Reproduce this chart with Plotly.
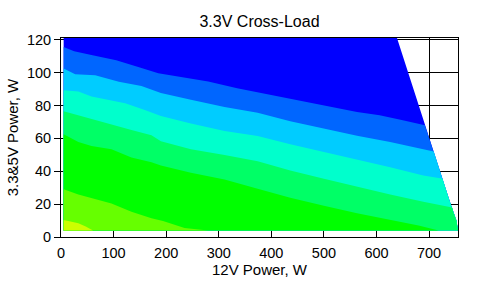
import plotly.graph_objects as go

# ---- data ----
X_TICKS = [0, 100, 200, 300, 400, 500, 600, 700]
Y_TICKS = [0, 20, 40, 60, 80, 100, 120]

# band colours, top (highest 3.3&5V load) to bottom
BAND_COLORS = ["#0000FF", "#0066FF", "#00CCFF", "#00FFCC",
               "#00FF66", "#00FF00", "#66FF00", "#CCFF00"]

# measured load region
X_MIN = 5
Y_MIN = 4
Y_MAX = 121
# right-hand cut-off edge (max combined load), bottom to top
EDGE_X = [755, 752, 746, 741, 736, 731, 726, 721, 716, 711, 706, 701, 695, 690,
          685, 681, 676, 670, 666, 660, 655, 650, 646, 639]
EDGE_Y = [4, 10, 15, 20, 25, 30, 35, 40, 45, 50, 55, 60, 65, 70,
          75, 80, 85, 90, 95, 100, 105, 110, 115, 121]

# band boundaries (upper colour / lower colour)
B1_X = [5, 25, 60, 105, 150, 185, 220, 280, 335, 375, 435, 500, 563, 606, 650, 692]
B1_Y = [115.5, 113, 110.5, 107.5, 103, 99.5, 97.5, 94.5, 90.5, 88, 84.5, 80, 76, 74, 71, 68]

B2_X = [5, 27, 65, 110, 153, 190, 247, 311, 374, 436, 500, 563, 626, 689, 709]
B2_Y = [102.5, 99, 98.4, 94.4, 91.8, 87.5, 83.4, 79, 75.5, 70.4, 65.8, 61.5, 57.8, 53.4, 52]

B3_X = [5, 33, 58, 122, 158, 190, 247, 311, 374, 436, 500, 563, 626, 689, 724]
B3_Y = [89.2, 88.4, 85.4, 81.4, 77.4, 73.5, 69, 64.4, 61.4, 56.4, 51.4, 47, 42.4, 37.4, 35.5]

B4_X = [5, 27, 58, 96, 134, 172, 190, 247, 311, 374, 436, 500, 563, 626, 689, 744]
B4_Y = [76.5, 74.4, 71.8, 68.4, 65, 61.8, 58.2, 53.4, 49.8, 46, 40.4, 35.4, 30.4, 25.8, 21.4, 18]

B5_X = [5, 33, 58, 96, 134, 172, 190, 247, 311, 374, 436, 500, 563, 626, 680, 718]
B5_Y = [62.5, 57.8, 55.4, 53.4, 48.4, 45.4, 43.4, 39, 35, 29.4, 23.8, 19, 14.4, 10.4, 7, 4]

B6_X = [5, 33, 58, 96, 134, 172, 194, 216, 235, 280]
B6_Y = [29, 25.8, 23.4, 20.4, 15.4, 11.4, 9.8, 7.4, 5.4, 4]

B7_X = [5, 33, 47, 61]
B7_Y = [10.4, 8.4, 6.4, 4]

BOUNDARIES = [(B1_X, B1_Y), (B2_X, B2_Y), (B3_X, B3_Y), (B4_X, B4_Y),
              (B5_X, B5_Y), (B6_X, B6_Y), (B7_X, B7_Y)]

fig = go.Figure()

# whole measured region in the top colour
px = [X_MIN] + EDGE_X + [X_MIN, X_MIN]
py = [Y_MIN] + EDGE_Y + [Y_MAX, Y_MIN]
fig.add_trace(go.Scatter(x=px, y=py, mode="lines", fill="toself",
                         fillcolor=BAND_COLORS[0], line=dict(width=0),
                         hoverinfo="skip", showlegend=False))

# region below each boundary, painted over in the next colour
for k, (bx, by) in enumerate(BOUNDARIES):
    end_y = by[-1]
    px = [X_MIN]
    py = [Y_MIN]
    if end_y > Y_MIN:
        for ex, ey in zip(EDGE_X, EDGE_Y):
            if ey < end_y:
                px.append(ex)
                py.append(ey)
    px += list(reversed(bx))
    py += list(reversed(by))
    px.append(X_MIN)
    py.append(Y_MIN)
    fig.add_trace(go.Scatter(x=px, y=py, mode="lines", fill="toself",
                             fillcolor=BAND_COLORS[k + 1], line=dict(width=0),
                             hoverinfo="skip", showlegend=False))

FONT = "Liberation Sans, Arial, sans-serif"

fig.update_layout(
    width=487, height=286,
    margin=dict(l=58, r=29, t=38, b=48, pad=0),
    paper_bgcolor="white", plot_bgcolor="white",
    font=dict(family=FONT, color="black", size=14.5),
    title=dict(text="3.3V Cross-Load", x=0.5, xref="paper", xanchor="center",
               y=1 - 21.5 / 286, yref="container", yanchor="middle",
               font=dict(size=16, family=FONT, color="black")),
    xaxis=dict(range=[0, 755], tickvals=X_TICKS, ticks="inside", ticklen=5,
               tickcolor="black", showline=True, linecolor="black", linewidth=1,
               mirror=True, showgrid=True, gridcolor="black", gridwidth=1,
               zeroline=False, tickfont=dict(size=14.5), ticklabelstandoff=3,
               title=dict(text="12V Power, W", font=dict(size=15), standoff=2)),
    yaxis=dict(range=[0, 121], tickvals=Y_TICKS, ticks="outside", ticklen=6,
               tickcolor="black", showline=True, linecolor="black", linewidth=1,
               mirror=True, showgrid=True, gridcolor="black", gridwidth=1,
               zeroline=False, tickfont=dict(size=14.5),
               title=dict(text="3.3&5V Power, W", font=dict(size=15), standoff=4)),
)

fig.write_html("out.html")
